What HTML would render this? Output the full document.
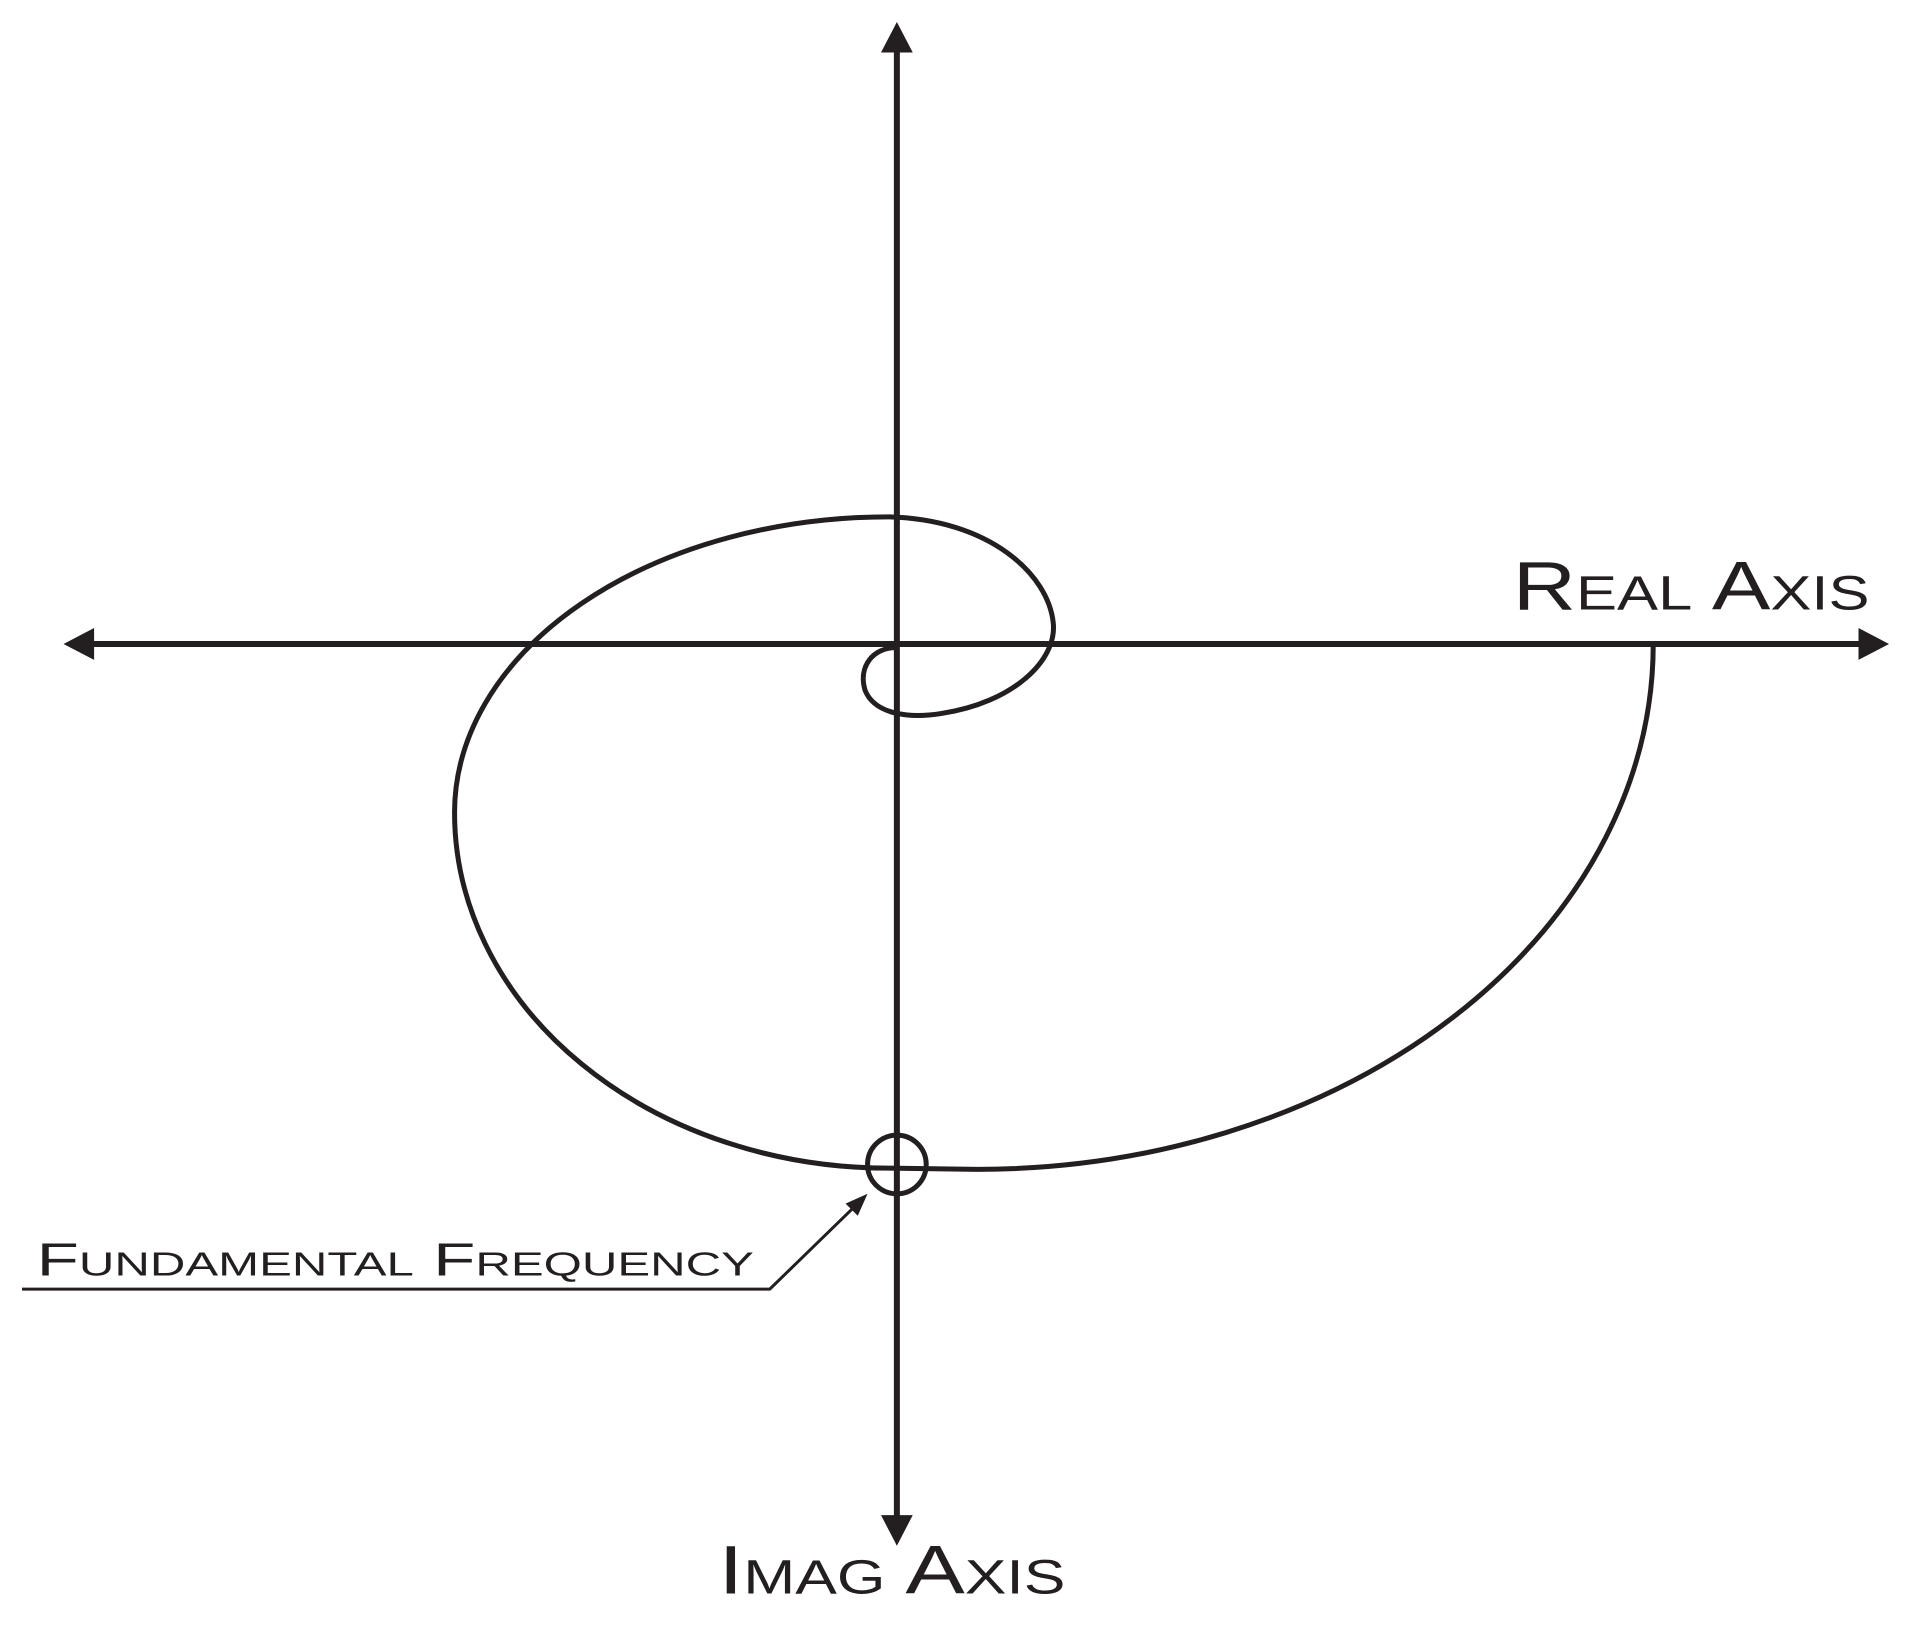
<!DOCTYPE html>
<html><head><style>html,body{margin:0;padding:0;background:#fff}svg{display:block}</style></head>
<body>
<svg width="1916" height="1630" viewBox="0 0 1916 1630" xmlns="http://www.w3.org/2000/svg">
<g transform="scale(1.2219)" fill="none" stroke="#231f20">
<line x1="60" y1="527" x2="1535" y2="527" vector-effect="non-scaling-stroke" style="stroke-width:6px"/>
<line x1="734" y1="30" x2="734" y2="1255" style="stroke-width:6px" vector-effect="non-scaling-stroke"/>
<polygon points="52,527 77,514 77,540" fill="#231f20" stroke="none"/>
<polygon points="1546,527 1521,514 1521,540" fill="#231f20" stroke="none"/>
<polygon points="734,18 721,43 747,43" fill="#231f20" stroke="none"/>
<polygon points="734,1265 721,1240 747,1240" fill="#231f20" stroke="none"/>
<path d="M733,530 C715,530 702,545 708,565 C716,585 745,588 770,584 C830,575 865,540 862,510 C858,470 810,425 727,423 A355,242 0 0 0 372,665 A355,291 0 0 0 727,956 L800,957 A553,430 0 0 0 1353,527" style="stroke-width:5px" vector-effect="non-scaling-stroke"/>
<circle cx="734" cy="953" r="24" style="stroke-width:5px" vector-effect="non-scaling-stroke"/>
<polyline points="18,1055 630,1055 703,984" style="stroke-width:3px" vector-effect="non-scaling-stroke"/>
<polygon points="710,977 692,985 702,995" fill="#231f20" stroke="none"/>
<g fill="#231f20" stroke="none" font-family="Liberation Sans, sans-serif" style="font-variant:small-caps">
<text x="1238" y="499" font-size="56" textLength="292" lengthAdjust="spacingAndGlyphs">Real Axis</text>
<text x="588" y="1304" font-size="56" textLength="284" lengthAdjust="spacingAndGlyphs">Imag Axis</text>
<text x="30" y="1044" font-size="38" textLength="587" lengthAdjust="spacingAndGlyphs">Fundamental Frequency</text>
</g>
</g>
</svg>
</body></html>
